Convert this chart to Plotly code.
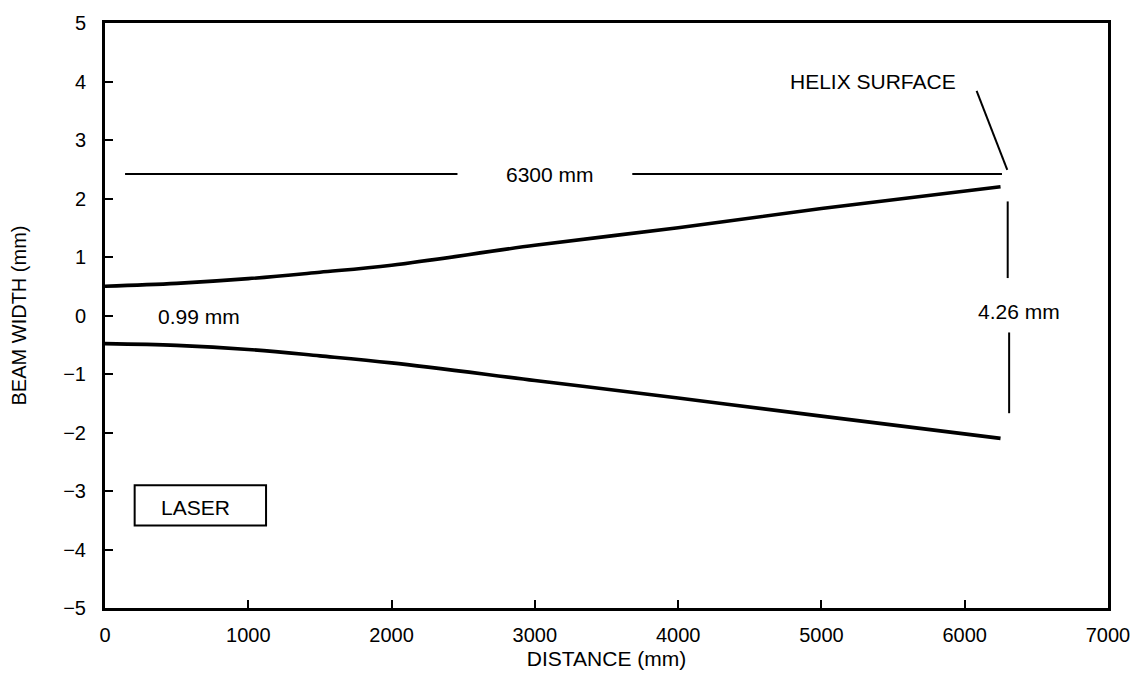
import plotly.graph_objects as go

# Beam profile
distance_mm = [0, 500, 1000, 1500, 2000, 3000, 4000, 5000, 6250]
upper_edge = [0.50, 0.55, 0.63, 0.74, 0.86, 1.20, 1.50, 1.83, 2.20]
lower_edge = [-0.48, -0.51, -0.58, -0.69, -0.81, -1.11, -1.41, -1.72, -2.10]

x_ticks = [0, 1000, 2000, 3000, 4000, 5000, 6000, 7000]
y_ticks = [-5, -4, -3, -2, -1, 0, 1, 2, 3, 4, 5]

FONT = "Liberation Sans, Arial, Helvetica, sans-serif"

fig = go.Figure()
for ys in (upper_edge, lower_edge):
    fig.add_trace(go.Scatter(x=distance_mm, y=ys, mode="lines",
                             line=dict(color="black", width=3.6, shape="spline"),
                             showlegend=False, hoverinfo="skip"))

line_style = dict(color="black", width=2)
# 6300 mm dimension line
fig.add_shape(type="line", x0=140, x1=2460, y0=2.42, y1=2.42, line=line_style)
fig.add_shape(type="line", x0=3680, x1=6260, y0=2.42, y1=2.42, line=line_style)
# helix surface leader
fig.add_shape(type="line", x0=6083, x1=6297, y0=3.84, y1=2.49, line=line_style)
# 4.26 mm vertical dimension line
fig.add_shape(type="line", x0=6300, x1=6300, y0=1.95, y1=0.64, line=line_style)
fig.add_shape(type="line", x0=6310, x1=6310, y0=-0.29, y1=-1.67, line=line_style)
# laser box
fig.add_shape(type="rect", x0=207, x1=1124, y0=-2.90, y1=-3.59,
              line=dict(color="black", width=2))

ann_font = dict(family=FONT, size=21, color="black")
for text, x, y in [("HELIX SURFACE", 5359, 4.0), ("6300 mm", 3103, 2.41),
                   ("4.26 mm", 6380, 0.07), ("0.99 mm", 655, -0.02),
                   ("LASER", 634, -3.28)]:
    fig.add_annotation(x=x, y=y, text=text, showarrow=False, font=ann_font,
                       xanchor="center", yanchor="middle")

axis_common = dict(showline=True, linecolor="black", linewidth=3, mirror=True,
                   showgrid=False, zeroline=False, ticks="inside", ticklen=8,
                   tickwidth=2, tickcolor="black",
                   tickfont=dict(family=FONT, size=20, color="black"))

fig.update_xaxes(range=[0, 7000], tickvals=x_ticks, ticklabelstandoff=7,
                 title=dict(text="DISTANCE (mm)", standoff=7,
                            font=dict(family=FONT, size=21, color="black")),
                 **axis_common)
fig.update_yaxes(range=[-5, 5], tickvals=y_ticks, ticklabelstandoff=12,
                 title=dict(text="BEAM WIDTH (mm)", standoff=32,
                            font=dict(family=FONT, size=20, color="black")),
                 **axis_common)

fig.update_layout(width=1142, height=687, margin=dict(l=105, r=24, t=14, b=79),
                  paper_bgcolor="white", plot_bgcolor="white",
                  font=dict(family=FONT, color="black"))

fig.write_html("out.html", config={"displayModeBar": False},
               post_script="document.body.style.margin='0px';document.body.style.overflow='hidden';")
